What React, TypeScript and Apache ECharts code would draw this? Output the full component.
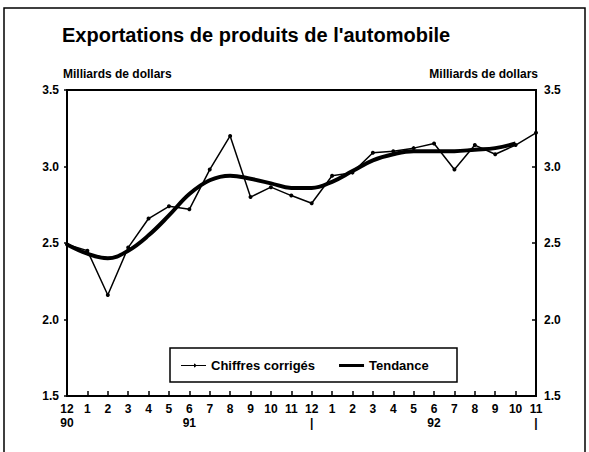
import React, { useEffect, useRef } from "react";
import * as echarts from "echarts";

const months = ["12", "1", "2", "3", "4", "5", "6", "7", "8", "9", "10", "11", "12", "1", "2", "3", "4", "5", "6", "7", "8", "9", "10", "11"];
const yearLabels: Record<number, string> = { 0: "90", 6: "91", 12: "|", 18: "92", 23: "|" };
const chiffres = [2.49, 2.45, 2.16, 2.47, 2.66, 2.74, 2.72, 2.98, 3.2, 2.8, 2.865, 2.81, 2.76, 2.94, 2.96, 3.09, 3.1, 3.12, 3.15, 2.98, 3.14, 3.08, 3.14, 3.22];
const tendance = [2.49, 2.43, 2.4, 2.45, 2.55, 2.68, 2.82, 2.91, 2.94, 2.92, 2.89, 2.86, 2.86, 2.9, 2.97, 3.04, 3.08, 3.1, 3.1, 3.1, 3.11, 3.12, 3.15, null];
const title = "Exportations de produits de l'automobile";
const unit = "Milliards de dollars";

const FONT = "'Liberation Sans', Arial, sans-serif";

export default function App() {
  const ref = useRef<HTMLDivElement>(null);
  useEffect(() => {
    const chart = echarts.init(ref.current!, null, { renderer: "svg" });
    const yAxisBase = {
      type: "value" as const,
      min: 1.5,
      max: 3.5,
      interval: 0.5,
      splitLine: { show: false },
      axisLine: { show: true, lineStyle: { color: "#000", width: 2 } },
      axisLabel: {
        color: "#000",
        fontFamily: FONT,
        fontWeight: "bold" as const,
        fontSize: 12,
        formatter: (v: number) => v.toFixed(1),
      },
    };
    chart.setOption({
      animation: false,
      backgroundColor: "#fff",
      textStyle: { fontFamily: FONT },
      graphic: [
        {
          type: "rect",
          shape: { x: 4, y: 8, width: 581, height: 450 },
          style: { fill: "none", stroke: "#000", lineWidth: 1.5 },
          silent: true,
          z: 10,
        },
        {
          type: "rect",
          shape: { x: 170, y: 348, width: 287, height: 34 },
          style: { fill: "#fff", stroke: "#000", lineWidth: 1.5 },
          silent: true,
          z: 5,
        },
        {
          type: "text",
          left: 62,
          top: 25,
          style: { text: title, font: `bold 20px ${FONT}`, fill: "#000" },
        },
        {
          type: "text",
          left: 63,
          top: 68,
          style: { text: unit, font: `bold 12px ${FONT}`, fill: "#000" },
        },
        {
          type: "text",
          right: 589 - 538,
          top: 68,
          style: { text: unit, font: `bold 12px ${FONT}`, fill: "#000" },
        },
      ],
      legend: {
        left: 181,
        top: 359,
        itemGap: 24,
        padding: 0,
        z: 20,
        itemWidth: 25,
        itemHeight: 10,
        textStyle: { color: "#000", fontFamily: FONT, fontWeight: "bold", fontSize: 13 },
        data: [
          { name: "Chiffres corrigés", icon: "path://M0,4.4 L13,4.4 L13,3 A2,2 0 1,1 13,7 L13,5.6 L0,5.6 Z M13,4.4 L25,4.4 L25,5.6 L13,5.6 Z" },
          { name: "Tendance", icon: "path://M0,3.5 L25,3.5 L25,6.5 L0,6.5 Z" },
        ],
      },
      grid: { left: 67, right: 53, top: 90, bottom: 56, show: true, borderColor: "#000", borderWidth: 2 },
      xAxis: {
        type: "category",
        data: months,
        boundaryGap: false,
        axisLine: { show: true, lineStyle: { color: "#000", width: 2 } },
        axisTick: { show: true, inside: true, length: 5, lineStyle: { color: "#000", width: 1.5 } },
        axisLabel: {
          interval: 0,
          color: "#000",
          fontFamily: FONT,
          fontWeight: "bold",
          fontSize: 12,
          lineHeight: 14,
          margin: 6,
          formatter: (v: string, i: number) => (yearLabels[i] ? `${v}\n${yearLabels[i]}` : v),
        },
      },
      yAxis: [
        {
          ...yAxisBase,
          position: "left",
          axisTick: { show: true, inside: false, length: 3, lineStyle: { color: "#000", width: 1.5 } },
        },
        {
          ...yAxisBase,
          position: "right",
          axisTick: { show: true, inside: true, length: 4, lineStyle: { color: "#000", width: 1.5 } },
        },
      ],
      series: [
        {
          name: "Chiffres corrigés",
          type: "line",
          data: chiffres,
          yAxisIndex: 0,
          symbol: "circle",
          symbolSize: 4,
          showSymbol: true,
          lineStyle: { color: "#000", width: 1.5 },
          itemStyle: { color: "#000" },
        },
        {
          name: "Tendance",
          type: "line",
          data: tendance,
          yAxisIndex: 0,
          smooth: 0.4,
          symbol: "none",
          lineStyle: { color: "#000", width: 4 },
          itemStyle: { color: "#000" },
        },
      ],
    });
    return () => chart.dispose();
  }, []);
  return (
    <div
      ref={ref}
      style={{ position: "absolute", left: 0, top: 0, width: 589, height: 452 }}
    />
  );
}
